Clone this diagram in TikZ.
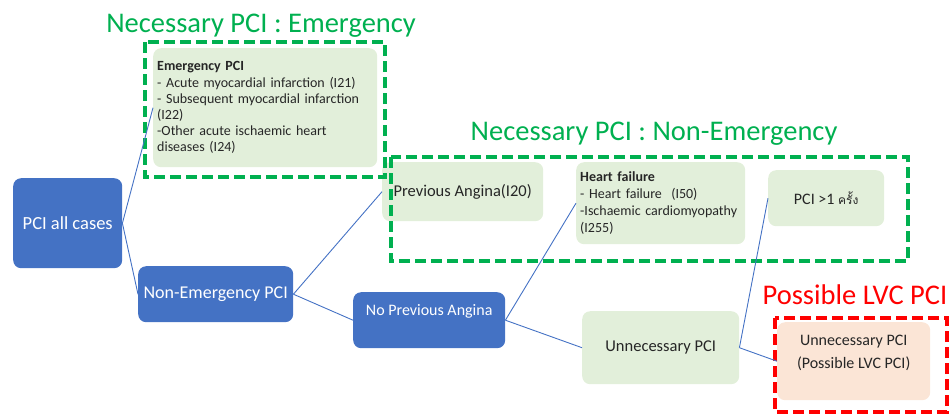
\documentclass[tikz,border=0pt]{standalone}
\usepackage{fontspec}
\setmainfont{Carlito}
\newfontfamily\thaifont[Script=Thai]{Loma}
\definecolor{pciblue}{HTML}{4472C4}
\definecolor{softgreen}{HTML}{E2EFDA}
\definecolor{softpeach}{HTML}{FBE5D6}
\definecolor{framegreen}{HTML}{00B050}
\definecolor{framered}{HTML}{FF0000}
\newcommand{\fsz}[1]{\fontsize{#1}{1.17\dimexpr#1pt\relax}\selectfont}
\begin{document}
\begin{tikzpicture}[x=1pt,y=-1pt,
    box/.style={anchor=north west, rounded corners=8pt, inner sep=0pt},
    bluebox/.style={box, fill=pciblue, text=white},
    greenbox/.style={box, fill=softgreen, text=black!85},
    link/.style={draw=pciblue, line width=0.9pt},
    groupframe/.style={line width=4pt, dash pattern=on 11pt off 5pt},
    grouptitle/.style={anchor=base, font=\fsz{28.5}}]
    \useasboundingbox (0,0) rectangle (950,416);
    % blue decision boxes
    \node[bluebox, minimum width=109, minimum height=90, font=\fsz{18.5}] (all) at (13,178) {PCI all cases};
    \node[bluebox, minimum width=155, minimum height=56, font=\fsz{18}] (nonemerg) at (138,266) {Non-Emergency PCI};
    \node[bluebox, minimum width=152, minimum height=56, font=\fsz{16}, text depth=20pt] (noprev) at (353,292) {No Previous Angina};
    % green outcome boxes
    \node[greenbox, minimum width=224, minimum height=119, text width=216, inner xsep=4, align=left, font=\fontsize{14}{16.2}\selectfont] (emerg) at (153,48)
        {\textbf{Emergency PCI}\\- Acute myocardial infarction (I21)\\- Subsequent\ myocardial infarction\\(I22)\\-Other acute ischaemic heart\\diseases (I24)};
    \node[greenbox, minimum width=161, minimum height=59, font=\fsz{16.5}] (prevang) at (382,162) {Previous Angina(I20)};
    \node[greenbox, minimum width=169, minimum height=82, text width=161, inner xsep=4, align=left, font=\fontsize{14}{17}\selectfont] (heart) at (576,162)
        {\textbf{Heart failure}\\- Heart failure\ \ (I50)\\-Ischaemic cardiomyopathy\\(I255)};
    \node[greenbox, minimum width=116, minimum height=56, font=\fsz{16}] (pcimore) at (768,170) {PCI >1 {\thaifont\fontsize{12}{14}\selectfont ครั้ง}};
    \node[greenbox, minimum width=157, minimum height=73, font=\fsz{16.5}] (unnec) at (582,311) {Unnecessary PCI};
    \node[box, fill=softpeach, text=black!85, minimum width=153, minimum height=78, align=center, font=\fontsize{16}{23}\selectfont, text depth=18pt] (lvc) at (777,322)
        {Unnecessary PCI\\(Possible LVC PCI)};
    % dashed groups
    \draw[groupframe, framegreen] (145,42) rectangle (385,177);
    \draw[groupframe, framegreen] (391,157) rectangle (908,261);
    \draw[groupframe, framered] (775,318) rectangle (947,412);
    \node[grouptitle, text=framegreen] (titleemerg) at (261,32) {Necessary PCI : Emergency};
    \node[grouptitle, text=framegreen] (titlenonemerg) at (654,140) {Necessary PCI : Non-Emergency};
    \node[grouptitle, text=framered] (titlelvc) at (855,304) {Possible LVC PCI};
    % tree links
    \draw[link] (all.east) -- (emerg.west);
    \draw[link] (all.east) -- (nonemerg.west);
    \draw[link] (nonemerg.east) -- (prevang.west);
    \draw[link] (nonemerg.east) -- (noprev.west);
    \draw[link] (noprev.east) -- (heart.west);
    \draw[link] (noprev.east) -- (unnec.west);
    \draw[link] (unnec.east) -- (pcimore.west);
    \draw[link] (unnec.east) -- (lvc.west);
\end{tikzpicture}
\end{document}
